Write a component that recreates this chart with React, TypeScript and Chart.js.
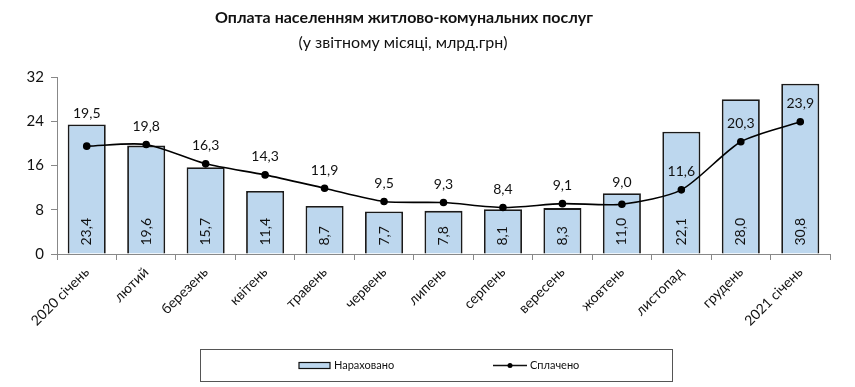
import React, { useEffect, useRef } from "react";
import { Chart, registerables } from "chart.js";

Chart.register(...registerables);

const categories = [
  "2020 січень",
  "лютий",
  "березень",
  "квітень",
  "травень",
  "червень",
  "липень",
  "серпень",
  "вересень",
  "жовтень",
  "листопад",
  "грудень",
  "2021 січень",
];
const accrued = [23.4, 19.6, 15.7, 11.4, 8.7, 7.7, 7.8, 8.1, 8.3, 11.0, 22.1, 28.0, 30.8];
const paid = [19.5, 19.8, 16.3, 14.3, 11.9, 9.5, 9.3, 8.4, 9.1, 9.0, 11.6, 20.3, 23.9];
const yMin = 0;
const yMax = 32;
const yStep = 8;
const titleText = "Оплата населенням житлово-комунальних послуг";
const subtitleText = "(у звітному місяці, млрд.грн)";
const legendLabels = ["Нараховано", "Сплачено"];

const FONT = "Lato, 'Liberation Sans', sans-serif";
const BAR_FILL = "#bdd7ee";
const BAR_BORDER = "#1a1a1a";
const TEXT = "#111111";

const fmt = (v: number) => v.toFixed(1).replace(".", ",");

const decorPlugin = {
  id: "decor",
  afterDatasetsDraw(chart: any) {
    const ctx = chart.ctx as CanvasRenderingContext2D;
    const barMeta = chart.getDatasetMeta(1);
    const lineMeta = chart.getDatasetMeta(0);
    ctx.save();
    ctx.fillStyle = TEXT;
    ctx.font = `14px ${FONT}`;
    barMeta.data.forEach((el: any, i: number) => {
      ctx.save();
      ctx.translate(el.x, el.base - 8);
      ctx.rotate(-Math.PI / 2);
      ctx.textAlign = "left";
      ctx.textBaseline = "middle";
      ctx.fillText(fmt(accrued[i]), 0, 0);
      ctx.restore();
    });
    lineMeta.data.forEach((el: any, i: number) => {
      const barTop = barMeta.data[i].y;
      let ly = el.y - 18;
      if (Math.abs(ly - barTop) < 10) ly = barTop - 11;
      ctx.textAlign = "center";
      ctx.textBaseline = "middle";
      ctx.fillText(fmt(paid[i]), el.x, ly);
    });
    ctx.restore();
  },
  afterDraw(chart: any) {
    const ctx = chart.ctx as CanvasRenderingContext2D;
    ctx.save();
    // titles
    ctx.fillStyle = TEXT;
    ctx.textAlign = "center";
    ctx.textBaseline = "middle";
    ctx.font = `bold 16px ${FONT}`;
    ctx.fillText(titleText, 404, 18);
    ctx.font = `16px ${FONT}`;
    ctx.fillText(subtitleText, 403, 43);

    // legend box
    ctx.strokeStyle = "#555";
    ctx.lineWidth = 1;
    ctx.strokeRect(200.5, 349.5, 472, 32);
    const ly = 365.5;
    ctx.fillStyle = BAR_FILL;
    ctx.fillRect(299, ly - 3, 31, 6);
    ctx.strokeStyle = "#111";
    ctx.lineWidth = 1.2;
    ctx.strokeRect(299, ly - 3, 31, 6);
    ctx.beginPath();
    ctx.moveTo(493, ly);
    ctx.lineTo(527, ly);
    ctx.lineWidth = 1.5;
    ctx.stroke();
    ctx.beginPath();
    ctx.arc(510, ly, 2.5, 0, Math.PI * 2);
    ctx.fillStyle = "#000";
    ctx.fill();
    ctx.fillStyle = TEXT;
    ctx.font = `11px ${FONT}`;
    ctx.textAlign = "left";
    ctx.textBaseline = "middle";
    ctx.fillText(legendLabels[0], 334, ly);
    ctx.fillText(legendLabels[1], 530, ly);
    ctx.restore();
  },
};

export default function App() {
  const ref = useRef<HTMLCanvasElement | null>(null);
  useEffect(() => {
    if (!ref.current) return;
    const chart = new Chart(ref.current, {
      type: "bar",
      data: {
        labels: categories,
        datasets: [
          {
            type: "line",
            label: legendLabels[1],
            data: paid,
            borderColor: "#000",
            borderWidth: 1.6,
            pointRadius: 3,
            pointBackgroundColor: "#000",
            pointBorderColor: "#000",
            tension: 0.25,
            order: 0,
          } as any,
          {
            type: "bar",
            label: legendLabels[0],
            data: accrued,
            backgroundColor: BAR_FILL,
            borderColor: BAR_BORDER,
            borderWidth: 1.8,
            barPercentage: 0.64,
            categoryPercentage: 1,
            order: 1,
          },
        ],
      },
      options: {
        responsive: false,
        animation: false,
        layout: { padding: { top: 77, right: 25, left: 0, bottom: 0 } },
        plugins: {
          legend: { display: false },
          title: { display: false },
          tooltip: { enabled: false },
        },
        scales: {
          x: {
            grid: {
              offset: true,
              drawOnChartArea: false,
              drawTicks: true,
              tickLength: 6,
              color: "#888",
            },
            border: { color: "#888", width: 1 },
            ticks: {
              minRotation: 45,
              maxRotation: 45,
              autoSkip: false,
              padding: 4,
              color: TEXT,
              font: { family: FONT, size: 14 },
            },
            afterFit(scale: any) {
              scale.height = 133;
            },
          },
          y: {
            min: yMin,
            max: yMax,
            ticks: {
              stepSize: yStep,
              padding: 7,
              color: TEXT,
              font: { family: FONT, size: 15 },
            },
            grid: {
              drawOnChartArea: false,
              drawTicks: true,
              tickLength: 6,
              color: "#888",
            },
            border: { color: "#888", width: 1 },
            afterFit(scale: any) {
              scale.width = 57;
            },
          },
        },
      },
      plugins: [decorPlugin],
    });
    return () => chart.destroy();
  }, []);
  return (
    <div style={{ position: "absolute", left: 0, top: 0, width: 855, height: 387, background: "#fff" }}>
      <canvas ref={ref} width={855} height={387} style={{ display: "block" }} />
    </div>
  );
}
